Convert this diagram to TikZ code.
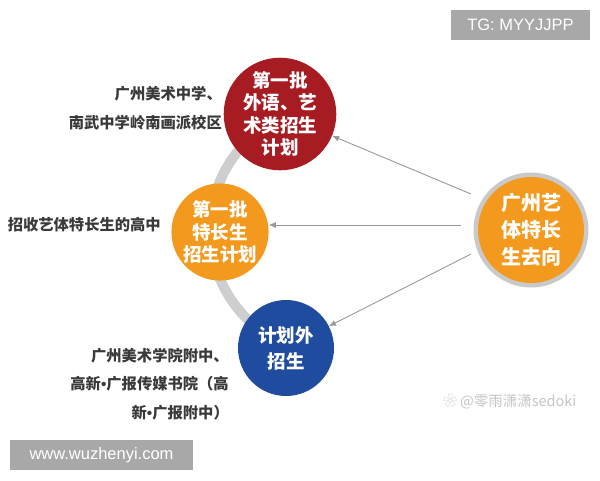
\documentclass[tikz,border=0pt]{standalone}
\usepackage{fontspec}
\setmainfont{Liberation Sans}
\newfontfamily\cjk{Noto Sans CJK SC}
\newfontfamily\lat{Liberation Sans}
\usetikzlibrary{arrows.meta}
\definecolor{cred}{HTML}{A61C22}
\definecolor{corange}{HTML}{F39A1E}
\definecolor{cblue}{HTML}{1F4C9E}
\definecolor{cring}{HTML}{C9C9C9}
\definecolor{ctext}{HTML}{3A3A3A}
\definecolor{cwm}{HTML}{A8A8A8}
\newcommand{\mydot}{{\lat\bfseries •}}
\begin{document}
\begin{tikzpicture}[x=1pt,y=-1pt,
  bubble/.style={circle,minimum size=96pt,inner sep=0pt,text=white,align=center,font=\cjk\bfseries\fontsize{18.5}{22.5}\selectfont},
  lbl/.style={text=ctext,align=right,anchor=east,font=\cjk\bfseries\fontsize{15.3}{29}\selectfont,inner sep=0pt},
  link/.style={draw=gray!80,line width=0.9pt,-{Latex[length=7pt,width=6pt]}},
  wm/.style={fill=cwm,text=white,font=\fontsize{16.5}{20}\selectfont,inner sep=0pt}]
\useasboundingbox (0,0) rectangle (600,480);
\fill[white] (0,0) rectangle (600,480);
% gray arc
\draw[cring!90,line width=10pt] (335,230) ++(110:125) arc[start angle=110,end angle=252,radius=125];
% bubbles
\node[bubble,fill=cred] (red) at (280,114) {第一批\\外语、艺\\术类招生\\计划};
\node[bubble,fill=corange] (orange) at (220,232) {第一批\\特长生\\招生计划};
\node[bubble,fill=cblue,font=\cjk\bfseries\fontsize{18.5}{26}\selectfont] (blue) at (286,348) {计划外\\招生};
\node[circle,minimum size=115pt,fill=cring,inner sep=0pt] (ring) at (531,230) {};
\node[circle,minimum size=106pt,fill=corange,inner sep=0pt,text=white,align=center,font=\cjk\bfseries\fontsize{20}{27}\selectfont] (src) at (531,230) {广州艺\\体特长\\生去向};
% arrows
\coordinate (s1) at (471,194);
\coordinate (s2) at (461,225);
\coordinate (s3) at (471,254);
\draw[link] (s1) -- (red);
\draw[link] (s2) -- (orange.east |- s2);
\draw[link] (s3) -- (blue);
% labels
\node[lbl] (l1) at (222,108) {广州美术中学、\\南武中学岭南画派校区};
\node[lbl] (l2) at (161,225) {招收艺体特长生的高中};
\node[lbl,font=\cjk\bfseries\fontsize{15.3}{28.5}\selectfont] (l3) at (229,384) {广州美术学院附中、\\高新\mydot 广报传媒书院（高\\新\mydot 广报附中）};
% watermarks
\node[wm,minimum width=139pt,minimum height=30pt] (tg) at (520.5,25) {TG: MYYJJPP};
\node[wm,minimum width=183pt,minimum height=30pt] (www) at (101.5,455) {www.wuzhenyi.com};
\node[text=gray!45,font=\cjk\fontsize{14.5}{16}\selectfont,anchor=west,inner sep=0pt] (sig) at (443,402) {\textcolor{gray!35}{❀}\,@零雨潇潇sedoki};
\end{tikzpicture}
\end{document}
